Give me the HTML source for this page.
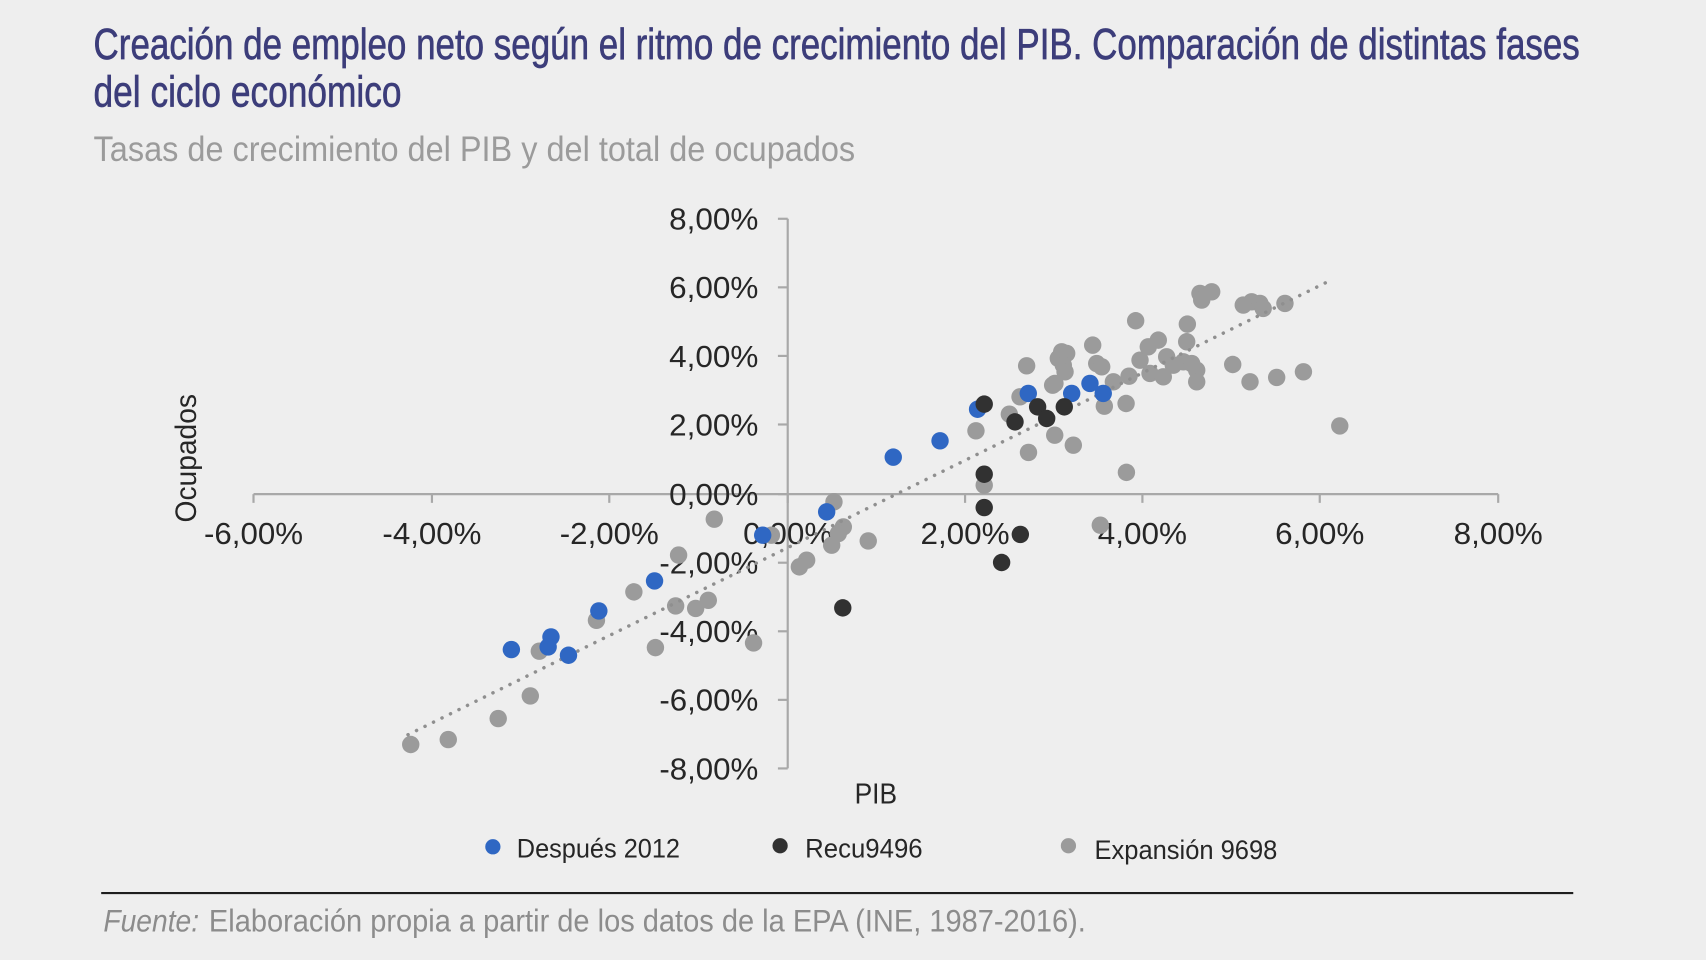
<!DOCTYPE html>
<html>
<head>
<meta charset="utf-8">
<style>
html,body{margin:0;padding:0;background:#eeeeee;}
svg{display:block;}
text{font-family:"Liberation Sans","DejaVu Sans",sans-serif;}
.t{font-family:"Liberation Sans Narrow","Liberation Sans",sans-serif;}
</style>
</head>
<body>
<svg width="1706" height="960" viewBox="0 0 1568 882" preserveAspectRatio="none" xmlns="http://www.w3.org/2000/svg">
<rect x="0" y="0" width="1568" height="882" fill="#eeeeee"/>

<!-- Title -->
<text class="t" x="86" y="54" font-size="40" fill="#3c3d7a" stroke="#3c3d7a" stroke-width="0.6" textLength="1366" lengthAdjust="spacingAndGlyphs">Creación de empleo neto según el ritmo de crecimiento del PIB. Comparación de distintas fases</text>
<text class="t" x="86" y="98" font-size="40" fill="#3c3d7a" stroke="#3c3d7a" stroke-width="0.6" textLength="283" lengthAdjust="spacingAndGlyphs">del ciclo económico</text>
<text class="t" x="86" y="148" font-size="32" fill="#9b9b9b" textLength="700" lengthAdjust="spacingAndGlyphs">Tasas de crecimiento del PIB y del total de ocupados</text>

<!-- Axes -->
<g stroke="#a8a8a8" stroke-width="2" fill="none">
<line x1="233" y1="454" x2="1377" y2="454"/>
<line x1="724" y1="201" x2="724" y2="706"/>
<line x1="233" y1="454" x2="233" y2="462"/>
<line x1="397" y1="454" x2="397" y2="462"/>
<line x1="560" y1="454" x2="560" y2="462"/>
<line x1="724" y1="454" x2="724" y2="462"/>
<line x1="887" y1="454" x2="887" y2="462"/>
<line x1="1050" y1="454" x2="1050" y2="462"/>
<line x1="1213" y1="454" x2="1213" y2="462"/>
<line x1="1377" y1="454" x2="1377" y2="462"/>
<line x1="715" y1="201" x2="724" y2="201"/>
<line x1="715" y1="264" x2="724" y2="264"/>
<line x1="715" y1="327" x2="724" y2="327"/>
<line x1="715" y1="390" x2="724" y2="390"/>
<line x1="715" y1="454" x2="724" y2="454"/>
<line x1="715" y1="517" x2="724" y2="517"/>
<line x1="715" y1="580" x2="724" y2="580"/>
<line x1="715" y1="643" x2="724" y2="643"/>
<line x1="715" y1="706" x2="724" y2="706"/>
</g>

<!-- Y tick labels -->
<g font-size="28" fill="#262626" text-anchor="end">
<text x="697" y="211" textLength="82" lengthAdjust="spacingAndGlyphs">8,00%</text>
<text x="697" y="274" textLength="82" lengthAdjust="spacingAndGlyphs">6,00%</text>
<text x="697" y="337" textLength="82" lengthAdjust="spacingAndGlyphs">4,00%</text>
<text x="697" y="400" textLength="82" lengthAdjust="spacingAndGlyphs">2,00%</text>
<text x="697" y="464" textLength="82" lengthAdjust="spacingAndGlyphs">0,00%</text>
<text x="697" y="527" textLength="91" lengthAdjust="spacingAndGlyphs">-2,00%</text>
<text x="697" y="590" textLength="91" lengthAdjust="spacingAndGlyphs">-4,00%</text>
<text x="697" y="653" textLength="91" lengthAdjust="spacingAndGlyphs">-6,00%</text>
<text x="697" y="716" textLength="91" lengthAdjust="spacingAndGlyphs">-8,00%</text>
</g>

<!-- X tick labels -->
<g font-size="28" fill="#262626" text-anchor="middle">
<text x="233" y="500" textLength="91" lengthAdjust="spacingAndGlyphs">-6,00%</text>
<text x="397" y="500" textLength="91" lengthAdjust="spacingAndGlyphs">-4,00%</text>
<text x="560" y="500" textLength="91" lengthAdjust="spacingAndGlyphs">-2,00%</text>
<text x="724" y="500" textLength="82" lengthAdjust="spacingAndGlyphs">0,00%</text>
<text x="887" y="500" textLength="82" lengthAdjust="spacingAndGlyphs">2,00%</text>
<text x="1050" y="500" textLength="82" lengthAdjust="spacingAndGlyphs">4,00%</text>
<text x="1213" y="500" textLength="82" lengthAdjust="spacingAndGlyphs">6,00%</text>
<text x="1377" y="500" textLength="82" lengthAdjust="spacingAndGlyphs">8,00%</text>
</g>

<!-- Axis titles -->
<text x="0" y="0" font-size="27" fill="#262626" text-anchor="middle" transform="translate(180,421) rotate(-90)" textLength="118" lengthAdjust="spacingAndGlyphs">Ocupados</text>
<text x="805" y="738" font-size="26" fill="#262626" text-anchor="middle" textLength="39" lengthAdjust="spacingAndGlyphs">PIB</text>

<!-- Gray series (Expansión 9698) -->
<g fill="#9b9b9b">
<circle cx="656.5" cy="477" r="8"/>
<circle cx="623.7" cy="510" r="8"/>
<circle cx="582.6" cy="543.8" r="8"/>
<circle cx="548.2" cy="569.9" r="8"/>
<circle cx="621" cy="556.7" r="8"/>
<circle cx="639.4" cy="559" r="8"/>
<circle cx="651" cy="551.5" r="8"/>
<circle cx="602.4" cy="595" r="8"/>
<circle cx="692.6" cy="590.7" r="8"/>
<circle cx="495.7" cy="598.3" r="8"/>
<circle cx="487.4" cy="639.4" r="8"/>
<circle cx="457.9" cy="660.2" r="8"/>
<circle cx="412" cy="679.5" r="8"/>
<circle cx="377.5" cy="684" r="8"/>
<circle cx="709" cy="491.7" r="8"/>
<circle cx="766.5" cy="461.1" r="8"/>
<circle cx="775.1" cy="484.1" r="8"/>
<circle cx="770.5" cy="490.2" r="8"/>
<circle cx="764.4" cy="500.9" r="8"/>
<circle cx="798" cy="497" r="8"/>
<circle cx="741.4" cy="514.7" r="8"/>
<circle cx="734.7" cy="520.8" r="8"/>
<circle cx="904.6" cy="445.8" r="8"/>
<circle cx="1011.3" cy="482.5" r="8"/>
<circle cx="1035.3" cy="434" r="8"/>
<circle cx="945.3" cy="415.7" r="8"/>
<circle cx="969.4" cy="399.8" r="8"/>
<circle cx="986.5" cy="409" r="8"/>
<circle cx="897" cy="395.8" r="8"/>
<circle cx="927.7" cy="380.5" r="8"/>
<circle cx="937.5" cy="364.6" r="8"/>
<circle cx="967.5" cy="353.9" r="8"/>
<circle cx="943.6" cy="336.1" r="8"/>
<circle cx="975.8" cy="323.2" r="8"/>
<circle cx="980.4" cy="324.7" r="8"/>
<circle cx="972.7" cy="329.3" r="8"/>
<circle cx="977.3" cy="335.5" r="8"/>
<circle cx="978.9" cy="341.6" r="8"/>
<circle cx="969.6" cy="352.3" r="8"/>
<circle cx="1004.3" cy="317.1" r="8"/>
<circle cx="1008" cy="334" r="8"/>
<circle cx="1012.6" cy="337" r="8"/>
<circle cx="1023.3" cy="350.8" r="8"/>
<circle cx="1015" cy="373.2" r="8"/>
<circle cx="1035" cy="370.7" r="8"/>
<circle cx="1037.7" cy="345.6" r="8"/>
<circle cx="1043.8" cy="294.7" r="8"/>
<circle cx="1047.8" cy="330.9" r="8"/>
<circle cx="1055.4" cy="318.6" r="8"/>
<circle cx="1064.6" cy="312.5" r="8"/>
<circle cx="1057" cy="343.1" r="8"/>
<circle cx="1069.2" cy="346.2" r="8"/>
<circle cx="1072.3" cy="327.8" r="8"/>
<circle cx="1078.4" cy="335.5" r="8"/>
<circle cx="1087.6" cy="332.4" r="8"/>
<circle cx="1090.7" cy="314" r="8"/>
<circle cx="1091.3" cy="297.8" r="8"/>
<circle cx="1095.3" cy="334" r="8"/>
<circle cx="1099.9" cy="340.1" r="8"/>
<circle cx="1099.9" cy="350.8" r="8"/>
<circle cx="1102.9" cy="269.6" r="8"/>
<circle cx="1113.7" cy="268.1" r="8"/>
<circle cx="1104.5" cy="275.7" r="8"/>
<circle cx="1133" cy="334.9" r="8"/>
<circle cx="1148.9" cy="350.8" r="8"/>
<circle cx="1173.4" cy="346.8" r="8"/>
<circle cx="1198" cy="341.6" r="8"/>
<circle cx="1231.4" cy="391.3" r="8"/>
<circle cx="1142.7" cy="280.3" r="8"/>
<circle cx="1150.4" cy="277.3" r="8"/>
<circle cx="1158" cy="278.8" r="8"/>
<circle cx="1161" cy="283.4" r="8"/>
<circle cx="1181" cy="278.8" r="8"/>
</g>

<!-- Trend line (dotted) -->
<line x1="375" y1="675" x2="1224" y2="257" stroke="#8f8f8f" stroke-width="3.2" stroke-linecap="round" stroke-dasharray="0.1 8.6"/>

<!-- Blue series (Después 2012) -->
<g fill="#2f67c3">
<circle cx="470" cy="596.8" r="8"/>
<circle cx="506.4" cy="585.2" r="8"/>
<circle cx="503.8" cy="594.4" r="8"/>
<circle cx="522.5" cy="602" r="8"/>
<circle cx="550.4" cy="561.3" r="8"/>
<circle cx="601.6" cy="533.7" r="8"/>
<circle cx="701" cy="491.7" r="8"/>
<circle cx="759.8" cy="470.3" r="8"/>
<circle cx="821" cy="420" r="8"/>
<circle cx="864" cy="405" r="8"/>
<circle cx="898.5" cy="376" r="8"/>
<circle cx="945.1" cy="361.5" r="8"/>
<circle cx="985" cy="361.5" r="8"/>
<circle cx="1001.8" cy="352.3" r="8"/>
<circle cx="1014" cy="361.5" r="8"/>
</g>

<!-- Dark series (Recu9496) -->
<g fill="#313131">
<circle cx="904.6" cy="371.3" r="8"/>
<circle cx="932.9" cy="387.6" r="8"/>
<circle cx="953.7" cy="373.8" r="8"/>
<circle cx="962" cy="384.5" r="8"/>
<circle cx="978.2" cy="373.8" r="8"/>
<circle cx="904.6" cy="435.7" r="8"/>
<circle cx="904.6" cy="466.3" r="8"/>
<circle cx="937.8" cy="491" r="8"/>
<circle cx="920.6" cy="516.8" r="8"/>
<circle cx="774.6" cy="558.5" r="8"/>
</g>

<!-- Legend -->
<circle cx="453" cy="778" r="7" fill="#2f67c3"/>
<text x="475" y="788" font-size="25" fill="#262626" textLength="150" lengthAdjust="spacingAndGlyphs">Después 2012</text>
<circle cx="717" cy="777" r="7" fill="#313131"/>
<text x="740" y="788" font-size="25" fill="#262626" textLength="108" lengthAdjust="spacingAndGlyphs">Recu9496</text>
<circle cx="982" cy="777" r="7" fill="#9b9b9b"/>
<text x="1006" y="789" font-size="25" fill="#262626" textLength="168" lengthAdjust="spacingAndGlyphs">Expansión 9698</text>

<!-- Separator -->
<line x1="93" y1="820.5" x2="1446" y2="820.5" stroke="#1e1e1e" stroke-width="2"/>

<!-- Footer -->
<text class="t" x="95" y="856" font-size="29" fill="#8c8c8c" font-style="italic" textLength="88" lengthAdjust="spacingAndGlyphs">Fuente:</text>
<text class="t" x="192" y="856" font-size="29" fill="#8c8c8c" textLength="806" lengthAdjust="spacingAndGlyphs">Elaboración propia a partir de los datos de la EPA (INE, 1987-2016).</text>
</svg>
</body>
</html>
